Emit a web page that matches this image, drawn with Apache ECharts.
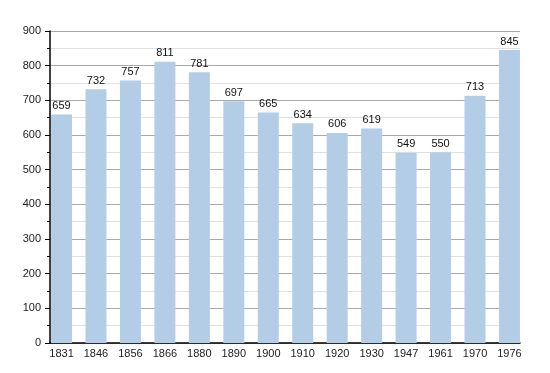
<!DOCTYPE html>
<html><head><meta charset="utf-8">
<script src="https://cdn.jsdelivr.net/npm/echarts@6/dist/echarts.min.js"></script>
<style>html,body{margin:0;padding:0;background:#fff}#c{width:550px;height:373px}</style>
</head><body><div id="c"></div>
<script>
const years = ['1831','1846','1856','1866','1880','1890','1900','1910','1920','1930','1947','1961','1970','1976'];
const population = [659,732,757,811,781,697,665,634,606,619,549,550,713,845];
const yMin = 0, yMax = 900, yStep = 100;

const font = 'Liberation Sans, Arial, sans-serif';
const chart = echarts.init(document.getElementById('c'), null, {renderer:'canvas'});
chart.setOption({
  animation:false,
  backgroundColor:'#fff',
  grid:[
    {left:50, right:30, top:31, bottom:30},
    {left:44.3, right:23.3, top:31, bottom:30}
  ],
  xAxis:[
    {gridIndex:0, type:'category', data:years, boundaryGap:true,
     axisLine:{show:true, lineStyle:{color:'#000', width:1.5}}, axisTick:{show:false}, axisLabel:{show:false}, splitLine:{show:false}},
    {gridIndex:1, type:'category', data:years,
     axisLine:{show:false}, axisTick:{show:false},
     axisLabel:{color:'#222', fontSize:11, fontFamily:font, margin:5}}
  ],
  yAxis:[
    {gridIndex:0, type:'value', min:yMin, max:yMax, interval:yStep,
     axisLine:{show:true, lineStyle:{color:'#000', width:1.5}},
     axisTick:{show:true, length:5, lineStyle:{color:'#000'}},
     minorTick:{show:true, splitNumber:2, length:3, lineStyle:{color:'#000'}},
     axisLabel:{color:'#222', fontSize:11, fontFamily:font, margin:9},
     splitLine:{show:true, lineStyle:{color:'#aaaaaa', width:1}},
     minorSplitLine:{show:true, lineStyle:{color:'#e0e0e0', width:1}}},
    {gridIndex:1, type:'value', min:yMin, max:yMax, interval:yStep, show:false}
  ],
  series:[{
    type:'bar', xAxisIndex:1, yAxisIndex:1, data:population, barWidth:21,
    itemStyle:{color:'#b4cde6'},
    label:{show:true, position:'top', distance:3, color:'#111', fontSize:11, fontFamily:font}
  }]
});
</script></body></html>
